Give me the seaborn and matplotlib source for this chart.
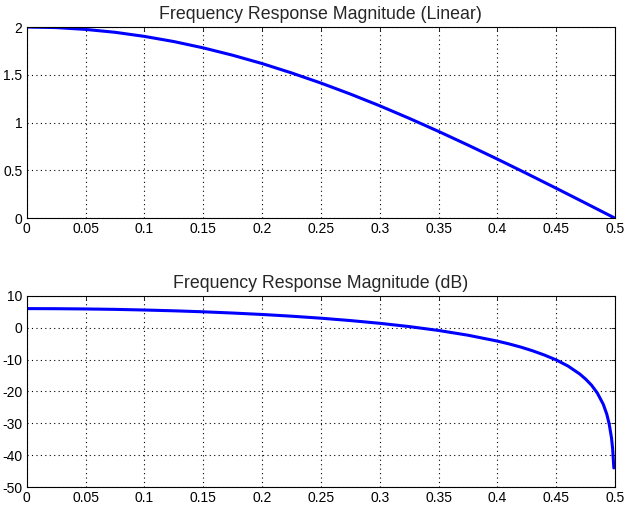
import pandas as pd
import seaborn as sns
import matplotlib.pyplot as plt

# values
freq_lin = [0, 0.025, 0.05, 0.075, 0.1, 0.125, 0.15, 0.175, 0.2, 0.225, 0.25,
            0.275, 0.3, 0.325, 0.35, 0.375, 0.4, 0.425, 0.45, 0.475, 0.499]
mag_lin = [2.000, 1.994, 1.975, 1.945, 1.902, 1.848, 1.782, 1.705, 1.618, 1.520, 1.414,
           1.299, 1.176, 1.045, 0.908, 0.765, 0.618, 0.467, 0.313, 0.157, 0.006]

freq_db = [0, 0.025, 0.05, 0.075, 0.1, 0.125, 0.15, 0.175, 0.2, 0.225, 0.25,
           0.275, 0.3, 0.325, 0.35, 0.375, 0.4, 0.41, 0.42, 0.43, 0.44, 0.45, 0.46, 0.47, 0.475,
           0.48, 0.485, 0.49, 0.493, 0.495, 0.497, 0.498, 0.499]
mag_db = [6.02, 5.99, 5.91, 5.78, 5.58, 5.33, 5.02, 4.63, 4.18, 3.64, 3.01,
          2.27, 1.41, 0.38, -0.84, -2.33, -4.18, -5.07, -6.07, -7.23, -8.56, -10.09, -12.0, -14.5, -16.1,
          -18.0, -20.5, -24.0, -27.1, -30.1, -34.5, -38.0, -44.0]

x_ticks = [0, 0.05, 0.1, 0.15, 0.2, 0.25, 0.3, 0.35, 0.4, 0.45, 0.5]
x_labels = ["0", "0.05", "0.1", "0.15", "0.2", "0.25", "0.3", "0.35", "0.4", "0.45", "0.5"]
lin_ticks = [0, 0.5, 1, 1.5, 2]
lin_labels = ["0", "0.5", "1", "1.5", "2"]
db_ticks = [-50, -40, -30, -20, -10, 0, 10]

df_lin = pd.DataFrame({"f": freq_lin, "mag": mag_lin})
df_db = pd.DataFrame({"f": freq_db, "mag": mag_db})

sns.set_style("white")
plt.rcParams["font.family"] = ["Liberation Sans", "DejaVu Sans"]
plt.rcParams["font.size"] = 10

fig = plt.figure(figsize=(6.25, 5.05), dpi=100)
ax1 = fig.add_axes([0.0427, 0.568, 0.9413, 0.3785])
ax2 = fig.add_axes([0.0427, 0.0356, 0.9413, 0.3784])

sns.lineplot(data=df_lin, x="f", y="mag", ax=ax1, color="#0000ff", linewidth=2.2)
sns.lineplot(data=df_db, x="f", y="mag", ax=ax2, color="#0000ff", linewidth=2.2)

for ax, yt, yl, ylim, title in [
    (ax1, lin_ticks, lin_labels, (0, 2), "Frequency Response Magnitude (Linear)"),
    (ax2, db_ticks, [str(v) for v in db_ticks], (-50, 10), "Frequency Response Magnitude (dB)"),
]:
    ax.set_xlim(0, 0.5)
    ax.set_ylim(*ylim)
    ax.set_xticks(x_ticks)
    ax.set_xticklabels(x_labels)
    ax.set_yticks(yt)
    ax.set_yticklabels(yl)
    ax.set_xlabel("")
    ax.set_ylabel("")
    ax.set_title(title, fontsize=12.8, pad=6)
    ax.grid(True, color="black", linestyle=(0, (1, 3)), linewidth=0.8)
    ax.tick_params(direction="in", length=3, width=0.6, top=True, right=True,
                   labelsize=10, pad=3, colors="black")
    for sp in ax.spines.values():
        sp.set_color("black")
        sp.set_linewidth(0.8)

plt.savefig("out.png", dpi=100)
